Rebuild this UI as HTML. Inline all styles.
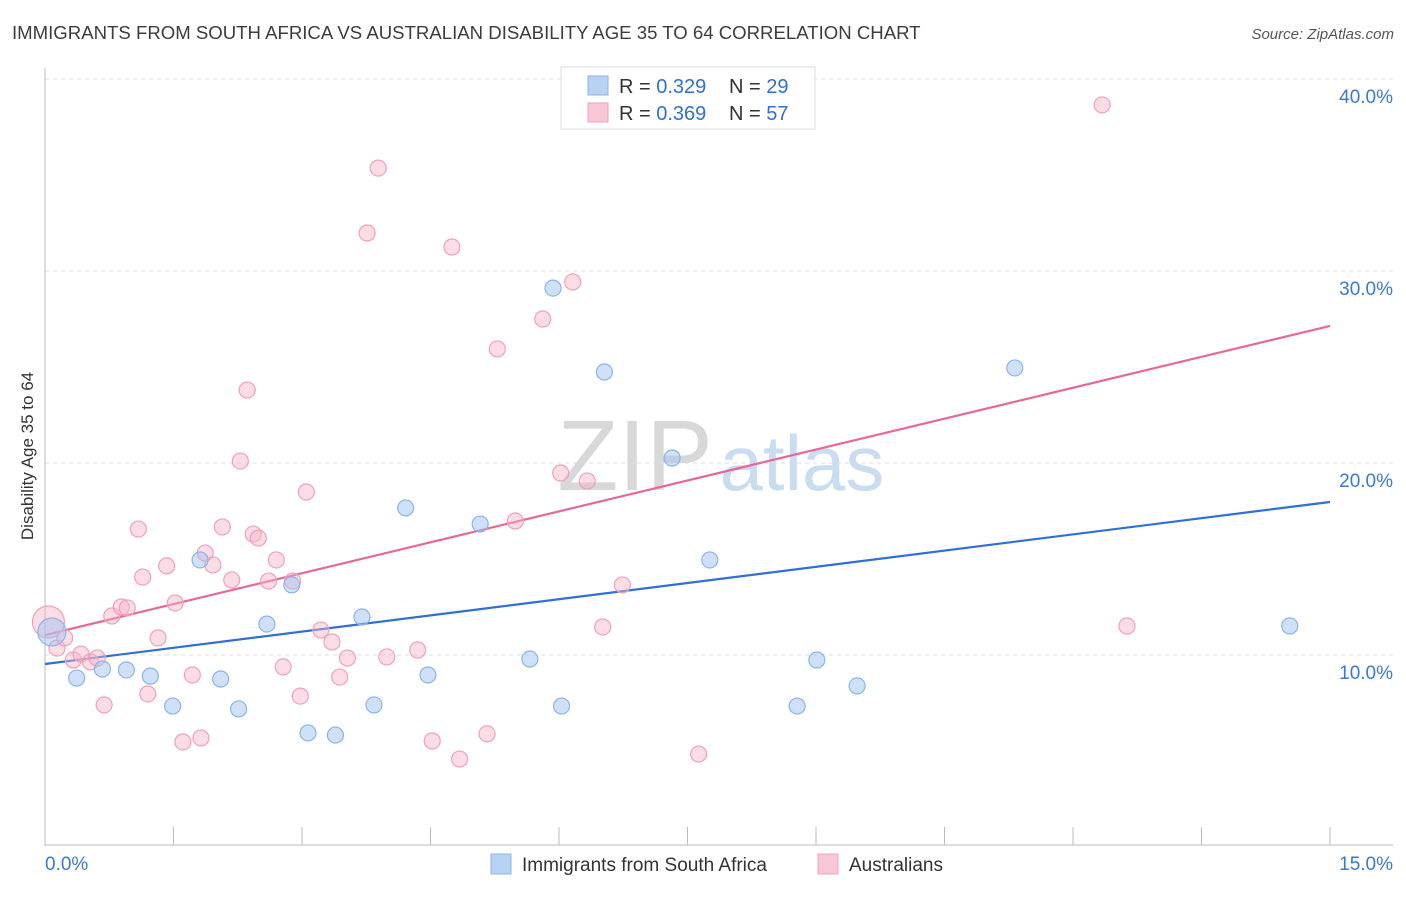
<!DOCTYPE html>
<html><head><meta charset="utf-8"><style>
body{margin:0;background:#fff;font-family:"Liberation Sans",sans-serif;}
svg text{font-family:"Liberation Sans",sans-serif;}
</style></head><body>
<svg id="chart" width="1406" height="892" xmlns="http://www.w3.org/2000/svg">
<text x="12" y="39" font-size="18.6" fill="#3c3c3c">IMMIGRANTS FROM SOUTH AFRICA VS AUSTRALIAN DISABILITY AGE 35 TO 64 CORRELATION CHART</text>
<text x="1394" y="39" font-size="15" fill="#555" text-anchor="end" font-style="italic">Source: ZipAtlas.com</text>
<text transform="translate(33,456) rotate(-90)" font-size="17" fill="#333" text-anchor="middle">Disability Age 35 to 64</text>
<g>
<text x="635" y="490" font-size="100" fill="#d8d8d8" font-family="Liberation Serif,serif" text-anchor="middle">ZIP</text>
<text x="802" y="490" font-size="78" fill="#c9dcf2" text-anchor="middle">atlas</text>
</g>
<g id="grid"></g><g id="axes"></g><g id="lines"></g><g id="pts"></g>
<g>
<rect x="561" y="67" width="254" height="62" fill="#fff" stroke="#ddd"/>
<rect x="588" y="76" width="20" height="19" fill="#b8d2f4" stroke="#8ab4e8"/>
<rect x="588" y="103" width="20" height="19" fill="#f9c6d5" stroke="#f0a0b8"/>
<text x="619" y="93" font-size="20" fill="#333">R = <tspan fill="#2f6fd6">0.329</tspan></text>
<text x="729" y="93" font-size="20" fill="#333">N = <tspan fill="#2f6fd6">29</tspan></text>
<text x="619" y="120" font-size="20" fill="#333">R = <tspan fill="#2f6fd6">0.369</tspan></text>
<text x="729" y="120" font-size="20" fill="#333">N = <tspan fill="#2f6fd6">57</tspan></text>
</g>
<g>
<rect x="491" y="854" width="20" height="20" fill="#b8d2f4" stroke="#8ab4e8"/>
<text x="522" y="871" font-size="19" fill="#333">Immigrants from South Africa</text>
<rect x="818" y="854" width="20" height="20" fill="#f9c6d5" stroke="#f0a0b8"/>
<text x="849" y="871" font-size="19" fill="#333">Australians</text>
</g>
</svg>
<script>
const yTicks=[10,20,30,40];
const xTickLabels=["0.0%","15.0%"];
const blueX=[0.08,0.37,0.67,0.95,1.23,1.49,1.81,2.05,2.26,2.59,2.88,3.07,3.39,3.70,3.84,4.21,4.47,5.08,5.66,5.93,6.03,6.53,7.32,7.76,8.78,9.01,9.48,11.32,14.53];
const blueY=[11.2,8.8,9.27,9.22,8.9,7.34,14.95,8.75,7.19,11.61,13.65,5.94,5.83,11.98,7.4,17.66,8.96,16.82,9.79,29.11,7.34,24.74,20.26,14.95,7.34,9.74,8.39,24.95,11.51];
const pinkX=[0.04,0.14,0.23,0.33,0.42,0.53,0.61,0.69,0.78,0.89,0.96,1.09,1.14,1.20,1.32,1.42,1.52,1.61,1.72,1.82,1.87,1.96,2.07,2.18,2.28,2.36,2.43,2.49,2.61,2.70,2.78,2.89,2.98,3.05,3.22,3.35,3.44,3.53,3.76,3.89,3.99,4.35,4.52,4.75,4.84,5.16,5.28,5.49,5.81,6.02,6.16,6.33,6.51,6.74,7.63,12.34,12.63];
const pinkY=[11.72,10.36,10.89,9.74,10.05,9.64,9.84,7.40,12.03,12.5,12.45,16.56,14.06,7.97,10.89,14.64,12.71,5.47,8.96,5.68,15.31,14.69,16.67,13.91,20.1,23.8,16.3,16.09,13.85,14.95,9.38,13.85,7.86,18.49,11.3,10.68,8.85,9.84,31.98,35.36,9.9,10.26,5.52,31.25,4.58,5.89,25.94,16.98,27.5,19.48,29.43,19.06,11.46,13.65,4.84,38.65,11.51];
const blueFit=[9.53,17.97];
const pinkFit=[11.04,27.14];
const xDomain=[0,15];
const NS="http://www.w3.org/2000/svg";
const sx=v=>45+(v-xDomain[0])/(xDomain[1]-xDomain[0])*1285;
const sy=v=>847-v*19.2;
function mk(tag,attrs,parent){const e=document.createElementNS(NS,tag);for(const k in attrs)e.setAttribute(k,attrs[k]);document.getElementById(parent).appendChild(e);return e;}
yTicks.forEach(t=>{
 const l=mk('line',{x1:45,x2:1393,y1:sy(t),y2:sy(t),stroke:'#ddd','stroke-dasharray':'4,4'},'grid');
 
 
 const tx=mk('text',{x:1393,y:sy(t)+24,'font-size':19,fill:'#3a78d4','text-anchor':'end'},'grid');tx.textContent=t.toFixed(1)+'%';
 
 
});
const ax=mk('line',{x1:45,x2:45,y1:68,y2:846,stroke:'#bbb'},'axes');


const bx=mk('line',{x1:45,x2:1393,y1:845,y2:845,stroke:'#bbb'},'axes');


for(let i=0;i<=10;i++){const v=i*1.5;const t=mk('line',{x1:sx(v),x2:sx(v),y1:827,y2:845,stroke:'#bbb'},'axes');
 
 }
[[0,'start'],[15,'end']].forEach((p,i)=>{const t=mk('text',{x:sx(p[0])+(i?63:0),y:870,'font-size':19,fill:'#3a78d4','text-anchor':p[1]},'axes');t.textContent=xTickLabels[i];
 
 });
function pts(X,Y,fill,stroke,name){X.forEach((x,i)=>{const c=mk('circle',{cx:sx(x),cy:sy(Y[i]),r:i===0?(name==='pink'?16:14):8,fill:fill,stroke:stroke,'stroke-width':1.2},'pts');
 
 });}
pts(pinkX,pinkY,'rgba(248,180,200,0.45)','#f0a0b8','pink');
pts(blueX,blueY,'rgba(160,195,240,0.5)','#8ab4e8','blue');
const bl=mk('line',{x1:sx(0),y1:sy(blueFit[0]),x2:sx(15),y2:sy(blueFit[1]),stroke:'#2f6fd6','stroke-width':2.2},'lines');


const pl=mk('line',{x1:sx(0),y1:sy(pinkFit[0]),x2:sx(15),y2:sy(pinkFit[1]),stroke:'#e8679a','stroke-width':2.2},'lines');


</script>
</body></html>
